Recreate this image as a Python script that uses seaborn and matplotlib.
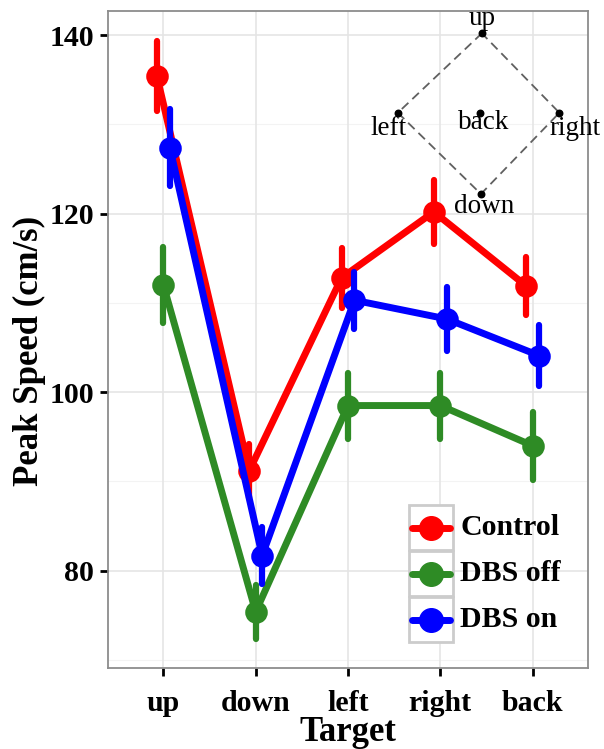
import numpy as np
import pandas as pd
import matplotlib
matplotlib.use("Agg")
import matplotlib.pyplot as plt
import seaborn as sns
from matplotlib.patches import Rectangle
from matplotlib.lines import Line2D

targets = ["up", "down", "left", "right", "back"]
groups = ["Control", "DBS off", "DBS on"]
colors = ["#ff0000", "#2e8b25", "#0000ff"]

control_mean = [135.4, 91.2, 112.8, 120.2, 111.9]
control_err = [3.9, 3.0, 3.4, 3.6, 3.2]
dbs_off_mean = [112.0, 75.4, 98.5, 98.5, 94.0]
dbs_off_err = [4.3, 3.0, 3.7, 3.7, 3.8]
dbs_on_mean = [127.4, 81.7, 110.3, 108.2, 104.1]
dbs_on_err = [4.3, 3.2, 3.2, 3.6, 3.4]

# inset diagram (target layout), in data units
inset_labels = ["up", "left", "back", "right", "down"]
inset_x = [3.45, 2.54, 3.43, 4.29, 3.44]
inset_y = [140.2, 131.3, 131.3, 131.3, 122.2]

rows = []
for g, m, e in [("Control", control_mean, control_err),
                ("DBS off", dbs_off_mean, dbs_off_err),
                ("DBS on", dbs_on_mean, dbs_on_err)]:
    for t, mm, ee in zip(targets, m, e):
        rows.append({"Target": t, "group": g, "speed": mm - ee})
        rows.append({"Target": t, "group": g, "speed": mm + ee})
df = pd.DataFrame(rows)

sns.set_theme(style="white")
plt.rcParams["font.family"] = ["Liberation Serif", "DejaVu Serif"]
plt.rcParams.update({"text.color": "black", "axes.labelcolor": "black",
                     "xtick.color": "black", "ytick.color": "black"})

fig = plt.figure(figsize=(6.04, 7.49), dpi=100)
ax = fig.add_axes([108/604, 1-668/749, (588-108)/604, (668-11)/749])

# grid
for v in [80, 100, 120, 140]:
    ax.axhline(v, color="#e5e5e5", lw=1.2, zorder=0)
for v in [70, 90, 110, 130]:
    ax.axhline(v, color="#f3f3f3", lw=0.8, zorder=0)
for i in range(len(targets)):
    ax.axvline(i, color="#e5e5e5", lw=1.2, zorder=0)

sns.pointplot(data=df, x="Target", y="speed", hue="group", order=targets,
              hue_order=groups, palette=colors, dodge=0.14,
              errorbar=("pi", 100), markersize=12.5, linewidth=5,
              err_kws={"linewidth": 4.5}, ax=ax, legend=False)

ax.set_xlim(-0.6, 4.6)
ax.set_ylim(69.1, 142.7)
ax.set_yticks([80, 100, 120, 140])
ax.set_xticks(range(len(targets)))
ax.set_xticklabels(targets)
for lbl in ax.get_xticklabels() + ax.get_yticklabels():
    lbl.set_fontweight("bold")
    lbl.set_fontsize(21.5)
    lbl.set_color("black")
ax.tick_params(axis="both", direction="out", length=6, width=2, color="black",
               bottom=True, left=True)
ax.tick_params(axis="x", pad=10)
ax.tick_params(axis="y", pad=4)
ax.set_xlabel("Target", fontsize=25, fontweight="bold", labelpad=-1, color="black")
ax.set_ylabel("Peak Speed (cm/s)", fontsize=25, fontweight="bold", labelpad=1,
              color="black")
ax.yaxis.set_label_coords(-0.13, 0.483)
for s in ax.spines.values():
    s.set_color("#8c8c8c")
    s.set_linewidth(1.3)

# inset diamond
order = [0, 1, 4, 3, 0]
ax.plot([inset_x[i] for i in order], [inset_y[i] for i in order],
        ls=(0, (5, 3)), color="#606060", lw=1.3, zorder=1)
ax.scatter(inset_x, inset_y, s=22, color="black", zorder=2)
offs = {"up": (0, 1.7, "center"), "left": (-0.1, -1.8, "center"),
        "back": (0.04, -1.1, "center"), "right": (0.17, -1.8, "center"),
        "down": (0.04, -1.4, "center")}
for lab, x, y in zip(inset_labels, inset_x, inset_y):
    dx, dy, ha = offs[lab]
    ax.text(x + dx, y + dy, lab, fontsize=19.5, ha=ha, va="center", zorder=3,
            color="black")

# manual legend (ggplot style keys)
tf = fig.transFigure
def fx(px): return px / 604
def fy(py): return 1 - py / 749
key_tops = [505, 551, 597]
for g, c, top in zip(groups, colors, key_tops):
    fig.patches.append(Rectangle((fx(409), fy(top + 45)), fx(453) - fx(409),
                                 fy(top) - fy(top + 45), transform=tf,
                                 facecolor="white", edgecolor="#cccccc", lw=2.0))
    cy = fy(top + 22.5)
    fig.lines.append(Line2D([fx(412), fx(450)], [cy, cy], transform=tf,
                            color=c, lw=5))
    fig.lines.append(Line2D([fx(431)], [cy], transform=tf, marker="o",
                            markersize=17, color=c, lw=0))
    fig.text(fx(460), cy, g, fontsize=21.5, fontweight="bold",
             va="center", ha="left", color="black")

fig.savefig("out.png", dpi=100)
